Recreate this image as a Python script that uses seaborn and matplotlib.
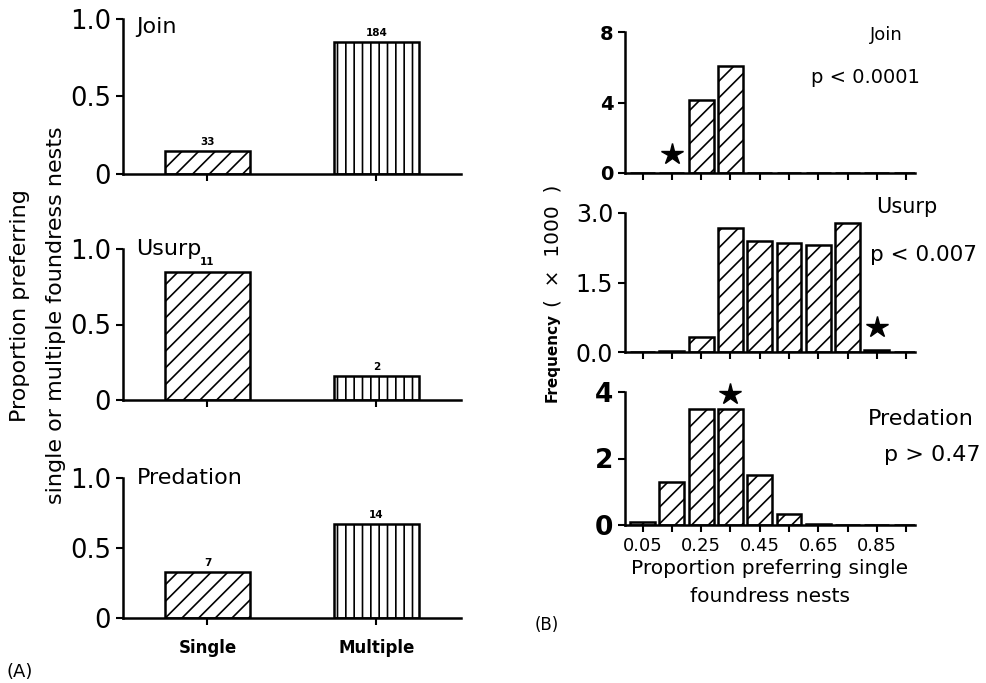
import matplotlib
matplotlib.use("Agg")
import matplotlib.pyplot as plt
import seaborn as sns

# ---------------- Panel A data ----------------
nest_types = ["Single", "Multiple"]
panelA_titles = ["Join", "Usurp", "Predation"]
join_prop = [0.15, 0.85]
join_n = ["33", "184"]
usurp_prop = [0.85, 0.16]
usurp_n = ["11", "2"]
pred_prop = [0.33, 0.67]
pred_n = ["7", "14"]
panelA_yticks = [0, 0.5, 1.0]
panelA_yticklabels = ["0", "0.5", "1.0"]

# ---------------- Panel B data ----------------
bin_centers = [0.05, 0.15, 0.25, 0.35, 0.45, 0.55, 0.65, 0.75, 0.85, 0.95]
join_freq = [0, 0, 4.15, 6.05, 0, 0, 0, 0, 0, 0]
usurp_freq = [0, 0.03, 0.32, 2.68, 2.40, 2.35, 2.31, 2.78, 0.04, 0]
pred_freq = [0.1, 1.29, 3.49, 3.49, 1.5, 0.33, 0.04, 0, 0, 0]
star_x = [0.15, 0.85, 0.35]
star_y = [1.1, 0.55, 3.95]
panelB_titles = ["Join", "Usurp", "Predation"]
p_texts = ["p < 0.0001", "p < 0.007", "p > 0.47"]
panelB_yticks = [[0, 4, 8], [0, 1.5, 3.0], [0, 2, 4]]
panelB_yticklabels = [["0", "4", "8"], ["0.0", "1.5", "3.0"], ["0", "2", "4"]]
panelB_xticklabels = ["0.05", "", "0.25", "", "0.45", "", "0.65", "", "0.85", ""]

sns.set_theme(style="ticks")
plt.rcParams["font.family"] = ["DejaVu Sans"]
plt.rcParams["hatch.linewidth"] = 1.2
plt.rcParams["hatch.color"] = "black"
for key in ["text.color", "axes.labelcolor", "xtick.color", "ytick.color",
            "axes.edgecolor"]:
    plt.rcParams[key] = "black"

W, H = 987, 683
fig = plt.figure(figsize=(W / 100, H / 100), dpi=100)


def fpos(x0, x1, y_bottom, y_top):
    return [x0 / W, 1 - y_bottom / H, (x1 - x0) / W, (y_bottom - y_top) / H]


lw = 1.8

# ---------- Panel A ----------
A_axes_px = [(174, 19), (400, 249), (618, 478)]
A_props = [join_prop, usurp_prop, pred_prop]
A_ns = [join_n, usurp_n, pred_n]
A_title_y = [0.95, 1.0, 1.0]
for i in range(3):
    yb, yt = A_axes_px[i]
    ax = fig.add_axes(fpos(123, 461, yb, yt))
    sns.barplot(x=nest_types, y=A_props[i], ax=ax, color="white", saturation=1,
                edgecolor="black", linewidth=lw, width=0.5)
    ax.patches[0].set_hatch("//")
    ax.patches[1].set_hatch("||")
    ax.bar_label(ax.containers[0], labels=A_ns[i], fontsize=7.5,
                 fontweight="bold", padding=3)
    ax.set_xlim(-0.5, 1.5)
    ax.set_ylim(0, 1.0)
    ax.set_yticks(panelA_yticks)
    ax.set_yticklabels(panelA_yticklabels, fontsize=18.5)
    ax.set_ylabel("")
    ax.tick_params(axis="both", direction="out", length=5, width=1.5, color="black")
    if i < 2:
        ax.set_xticklabels(["", ""])
    else:
        ax.set_xticklabels(nest_types, fontsize=12, fontweight="bold")
        ax.tick_params(axis="x", pad=10)
    sns.despine(ax=ax)
    for s in ["left", "bottom"]:
        ax.spines[s].set_linewidth(lw)
        ax.spines[s].set_color("black")
    ax.text(0.04, A_title_y[i], panelA_titles[i], transform=ax.transAxes,
            fontsize=16, va="center", ha="left")

fig.text(20 / W, 1 - 306 / H, "Proportion preferring", rotation=90,
         fontsize=16, ha="center", va="center")
fig.text(56 / W, 1 - 315 / H, "single or multiple foundress nests", rotation=90,
         fontsize=16, ha="center", va="center")
fig.text(7 / W, 1 - 672 / H, "(A)", fontsize=13, ha="left", va="center")

# ---------- Panel B ----------
B_axes_px = [(173, 32), (352, 213), (525, 392)]
B_freqs = [join_freq, usurp_freq, pred_freq]
B_tick_fs = [14, 17, 19]
B_tick_fw = ["bold", "normal", "bold"]
B_title_pos = [(0.90, 0.98), (0.97, 1.04), (1.02, 0.80)]
B_p_pos = [(0.83, 0.68), (1.03, 0.70), (1.06, 0.53)]
B_fs = [(13, 14), (15, 15.5), (16, 16)]
for i in range(3):
    yb, yt = B_axes_px[i]
    ax = fig.add_axes(fpos(625, 915, yb, yt))
    sns.barplot(x=bin_centers, y=B_freqs[i], ax=ax, native_scale=True, orient="x",
                color="white", saturation=1, edgecolor="black", linewidth=lw,
                width=0.85, hatch="//")
    ax.plot([star_x[i]], [star_y[i]], marker="*", color="black", ms=16,
            linestyle="none", clip_on=False, zorder=5)
    ax.set_xlim(-0.01, 0.98)
    ylo, yhi = panelB_yticks[i][0], panelB_yticks[i][-1]
    ax.set_ylim(ylo, yhi)
    ax.set_yticks(panelB_yticks[i])
    ax.set_yticklabels(panelB_yticklabels[i], fontsize=B_tick_fs[i],
                       fontweight=B_tick_fw[i])
    ax.set_xticks(bin_centers)
    if i < 2:
        ax.set_xticklabels([""] * len(bin_centers))
        ax.set_xlabel("")
    else:
        ax.set_xticklabels(panelB_xticklabels, fontsize=13)
        ax.set_xlabel("Proportion preferring single\nfoundress nests", fontsize=14.5,
                      labelpad=3, linespacing=1.6)
    ax.set_ylabel("")
    ax.tick_params(axis="both", direction="out", length=5, width=1.5, color="black")
    sns.despine(ax=ax)
    for s in ["left", "bottom"]:
        ax.spines[s].set_linewidth(lw)
        ax.spines[s].set_color("black")
    tx, ty = B_title_pos[i]
    ax.text(tx, ty, panelB_titles[i], transform=ax.transAxes, fontsize=B_fs[i][0],
            ha="center", va="center")
    px, py = B_p_pos[i]
    ax.text(px, py, p_texts[i], transform=ax.transAxes, fontsize=B_fs[i][1],
            ha="center", va="center")

fig.text(552 / W, 1 - 402 / H, "Frequency", rotation=90, fontsize=11,
         fontweight="bold", ha="center", va="bottom")
fig.text(553 / W, 1 - 307 / H, "(  \u00d7  1000  )", rotation=90, fontsize=14.5,
         ha="center", va="bottom")
fig.text(535 / W, 1 - 625 / H, "(B)", fontsize=12, ha="left", va="center")

fig.savefig("out.png", dpi=100)
